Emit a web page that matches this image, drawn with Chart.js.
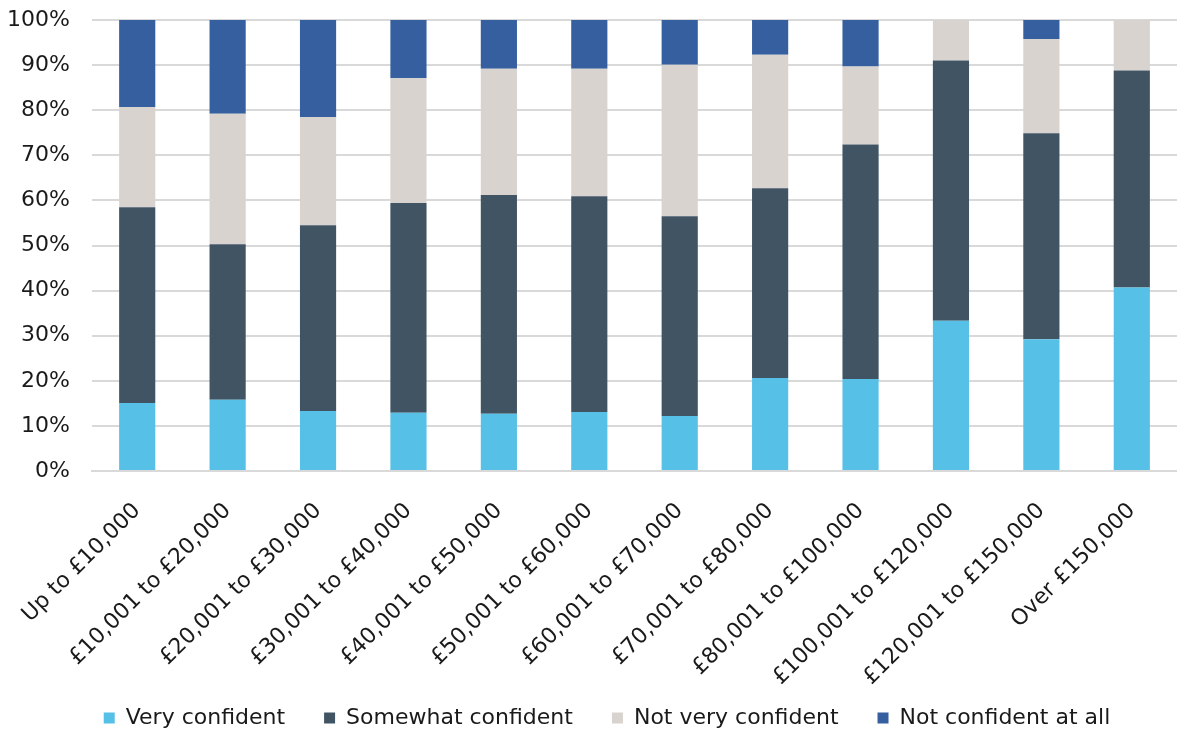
<!DOCTYPE html>
<html>
<head>
<meta charset="utf-8">
<script src="https://cdn.jsdelivr.net/npm/chart.js@4/dist/chart.umd.min.js"></script>
<style>
  html, body { margin: 0; padding: 0; background: #fff; }
  #wrap { width: 1177px; height: 735px; }
</style>
</head>
<body>
<div id="wrap"><canvas id="chart"></canvas></div>
<script>
// ===== DATA =====
const bands = [
    'Up to £10,000', '£10,001 to £20,000', '£20,001 to £30,000', '£30,001 to £40,000',
    '£40,001 to £50,000', '£50,001 to £60,000', '£60,001 to £70,000', '£70,001 to £80,000',
    '£80,001 to £100,000', '£100,001 to £120,000', '£120,001 to £150,000', 'Over £150,000'
];
const veryConfident     = [15.1, 15.8, 13.3, 12.9, 12.7, 13.1, 12.2, 20.6, 20.4, 33.3, 29.2, 40.7];
const somewhatConfident = [43.4, 34.5, 41.2, 46.5, 48.5, 47.8, 44.3, 42.1, 52.0, 57.7, 45.7, 48.1];
const notVeryConfident  = [22.2, 28.9, 24.0, 27.7, 28.0, 28.3, 33.6, 29.6, 17.3,  9.0, 20.9, 11.2];
const notConfidentAll   = [19.3, 20.8, 21.5, 12.9, 10.8, 10.8,  9.9,  7.7, 10.3,  0.0,  4.2,  0.0];

const FONT = '"DejaVu Sans", sans-serif';
const TEXT = '#1a1a1a';

const ctx = document.getElementById('chart').getContext('2d');

function ds(label, data, color) {
    return {
        label: label,
        data: data,
        backgroundColor: color,
        borderWidth: 0,
        barPercentage: 0.4,
        categoryPercentage: 1.0,
    };
}

new Chart(ctx, {
    type: 'bar',
    data: {
        labels: bands,
        datasets: [
            ds('Very confident', veryConfident, '#56c0e6'),
            ds('Somewhat confident', somewhatConfident, '#415464'),
            ds('Not very confident', notVeryConfident, '#d8d3ce'),
            ds('Not confident at all', notConfidentAll, '#355f9f'),
        ]
    },
    options: {
        responsive: true,
        maintainAspectRatio: false,
        animation: false,
        layout: { padding: { top: 20, right: 0, left: 0, bottom: -4 } },
        plugins: {
            tooltip: { enabled: false },
            legend: {
                position: 'bottom',
                fullSize: false,
                labels: {
                    color: TEXT,
                    font: { family: FONT, size: 22 },
                    boxWidth: 11,
                    boxHeight: 11,
                    padding: 6,
                    // wider gaps between entries, as in the original legend
                    generateLabels: chart => {
                        const items = Chart.defaults.plugins.legend.labels.generateLabels(chart);
                        items.forEach((it, i) => {
                            it.text += (i < items.length - 1) ? '\u2003\u2002' : '\u2003\u2003\u2002';
                            it.lineWidth = 0;
                        });
                        return items;
                    }
                }
            }
        },
        scales: {
            x: {
                stacked: true,
                grid: { display: false },
                border: { color: '#d9d9d9', width: 2 },
                ticks: {
                    color: TEXT,
                    font: { family: FONT, size: 22 },
                    maxRotation: 45,
                    minRotation: 45,
                    autoSkip: false,
                    padding: 19,
                },
                afterFit: axis => { axis.height = 230; }
            },
            y: {
                stacked: true,
                min: 0,
                max: 100,
                grid: { color: '#d9d9d9', lineWidth: 2, tickColor: 'rgba(0,0,0,0)', tickLength: 22 },
                border: { display: false },
                ticks: {
                    stepSize: 10,
                    color: TEXT,
                    font: { family: FONT, size: 22 },
                    padding: 0,
                    callback: v => v + '%'
                },
                afterFit: axis => { axis.width = 92; }
            }
        }
    }
});
</script>
</body>
</html>
